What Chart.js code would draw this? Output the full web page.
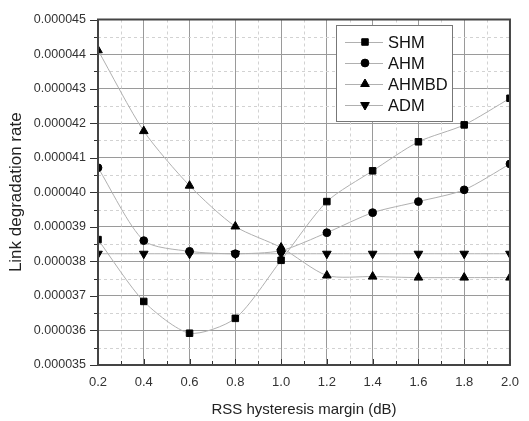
<!DOCTYPE html>
<html>
<head>
<meta charset="utf-8">
<script src="https://cdn.jsdelivr.net/npm/chart.js@4/dist/chart.umd.min.js"></script>
<style>
  html, body { margin: 0; padding: 0; background: #fff; }
  #wrap { width: 529px; height: 421px; }
</style>
</head>
<body>
<div id="wrap"><canvas id="chart" width="529" height="421"></canvas></div>
<script>
// data
const xValues = [0.2, 0.4, 0.6, 0.8, 1.0, 1.2, 1.4, 1.6, 1.8, 2.0];
const shm   = [3.863e-5, 3.684e-5, 3.592e-5, 3.635e-5, 3.803e-5, 3.973e-5, 4.062e-5, 4.146e-5, 4.195e-5, 4.272e-5];
const ahm   = [4.071e-5, 3.860e-5, 3.829e-5, 3.822e-5, 3.831e-5, 3.883e-5, 3.941e-5, 3.973e-5, 4.007e-5, 4.082e-5];
const ahmbd = [4.411e-5, 4.177e-5, 4.019e-5, 3.901e-5, 3.840e-5, 3.759e-5, 3.756e-5, 3.753e-5, 3.753e-5, 3.753e-5];
const adm   = [3.822e-5, 3.822e-5, 3.822e-5, 3.822e-5, 3.822e-5, 3.822e-5, 3.822e-5, 3.822e-5, 3.822e-5, 3.822e-5];
const seriesNames = ['SHM', 'AHM', 'AHMBD', 'ADM'];

const xTicks = [0.2, 0.4, 0.6, 0.8, 1.0, 1.2, 1.4, 1.6, 1.8, 2.0];
const xMinorTicks = [0.3, 0.5, 0.7, 0.9, 1.1, 1.3, 1.5, 1.7, 1.9];
const yTicks = [0.000035, 0.000036, 0.000037, 0.000038, 0.000039, 0.000040,
                0.000041, 0.000042, 0.000043, 0.000044, 0.000045];
const yMinorTicks = [0.0000355, 0.0000365, 0.0000375, 0.0000385, 0.0000395,
                     0.0000405, 0.0000415, 0.0000425, 0.0000435, 0.0000445];

const FONT = '"Liberation Sans", Arial, sans-serif';
const LINE_GREY = '#b0b0b0';

function makeSet(label, values, style, rotation, radius) {
    return {
        label: label,
        data: xValues.map((x, i) => ({ x: x, y: values[i] })),
        borderColor: LINE_GREY,
        borderWidth: 1,
        backgroundColor: '#000',
        pointBackgroundColor: '#000',
        pointBorderColor: '#000',
        pointBorderWidth: 1,
        pointStyle: style,
        pointRotation: rotation,
        pointRadius: radius,
        tension: 0.25,
        fill: false
    };
}

const datasets = [
    makeSet(seriesNames[0], shm, 'rect', 0, 4.6),
    makeSet(seriesNames[1], ahm, 'circle', 0, 3.9),
    makeSet(seriesNames[2], ahmbd, 'triangle', 0, 5),
    makeSet(seriesNames[3], adm, 'triangle', 180, 5)
];

// dashed minor grid, minor ticks and the dark frame
const framePlugin = {
    id: 'frame',
    beforeDatasetsDraw(chart) {
        const ctx = chart.ctx;
        const area = chart.chartArea;
        const xs = chart.scales.x, ys = chart.scales.y;
        ctx.save();
        ctx.strokeStyle = '#d2d2d2';
        ctx.lineWidth = 1;
        ctx.setLineDash([3, 3]);
        xMinorTicks.forEach(v => {
            const px = Math.round(xs.getPixelForValue(v)) + 0.5;
            ctx.beginPath(); ctx.moveTo(px, area.top); ctx.lineTo(px, area.bottom); ctx.stroke();
        });
        yMinorTicks.forEach(v => {
            const py = Math.round(ys.getPixelForValue(v)) + 0.5;
            ctx.beginPath(); ctx.moveTo(area.left, py); ctx.lineTo(area.right, py); ctx.stroke();
        });
        ctx.restore();
    },
    afterDraw(chart) {
        const ctx = chart.ctx;
        const area = chart.chartArea;
        const xs = chart.scales.x, ys = chart.scales.y;
        ctx.save();
        ctx.strokeStyle = '#333';
        ctx.lineWidth = 1;
        // major ticks
        xTicks.forEach(v => {
            const px = Math.round(xs.getPixelForValue(v)) + 0.5;
            ctx.beginPath(); ctx.moveTo(px, area.bottom); ctx.lineTo(px, area.bottom - 6); ctx.stroke();
        });
        yTicks.forEach(v => {
            const py = Math.round(ys.getPixelForValue(v)) + 0.5;
            ctx.beginPath(); ctx.moveTo(area.left - 8, py); ctx.lineTo(area.left, py); ctx.stroke();
        });
        // minor ticks
        xMinorTicks.forEach(v => {
            const px = Math.round(xs.getPixelForValue(v)) + 0.5;
            ctx.beginPath(); ctx.moveTo(px, area.bottom); ctx.lineTo(px, area.bottom - 4); ctx.stroke();
        });
        yMinorTicks.forEach(v => {
            const py = Math.round(ys.getPixelForValue(v)) + 0.5;
            ctx.beginPath(); ctx.moveTo(area.left - 4, py); ctx.lineTo(area.left, py); ctx.stroke();
        });
        // frame
        ctx.strokeStyle = '#444';
        ctx.lineWidth = 2;
        ctx.strokeRect(area.left, area.top, area.right - area.left, area.bottom - area.top);
        ctx.restore();
    }
};

// legend box with line + marker samples
const legendPlugin = {
    id: 'boxLegend',
    afterDraw(chart) {
        const ctx = chart.ctx;
        const left = 336, top = 25, w = 116, h = 96;
        ctx.save();
        ctx.fillStyle = '#fff';
        ctx.fillRect(left, top, w, h);
        ctx.strokeStyle = '#777';
        ctx.lineWidth = 1;
        ctx.strokeRect(left + 0.5, top + 0.5, w, h);
        ctx.font = '16.5px ' + FONT;
        ctx.textBaseline = 'middle';
        const rows = [42, 63, 84, 105];
        chart.data.datasets.forEach((ds, i) => {
            const y = rows[i];
            ctx.strokeStyle = LINE_GREY;
            ctx.lineWidth = 1;
            ctx.beginPath(); ctx.moveTo(345, y + 0.5); ctx.lineTo(383, y + 0.5); ctx.stroke();
            ctx.fillStyle = '#000';
            ctx.strokeStyle = '#000';
            Chart.helpers.drawPoint(ctx, {
                pointStyle: ds.pointStyle,
                rotation: ds.pointRotation,
                radius: ds.pointRadius,
                borderWidth: 1
            }, 365, y);
            ctx.fillStyle = '#111';
            ctx.fillText(ds.label, 388, y + 1);
        });
        ctx.restore();
    }
};

new Chart(document.getElementById('chart'), {
    type: 'line',
    data: { datasets: datasets },
    options: {
        responsive: false,
        animation: false,
        layout: { padding: { left: 0, right: 8, top: 18, bottom: 0 } },
        plugins: {
            legend: { display: false },
            tooltip: { enabled: false }
        },
        scales: {
            x: {
                type: 'linear',
                min: 0.2,
                max: 2.0,
                afterBuildTicks: s => { s.ticks = xTicks.map(v => ({ value: v })); },
                afterFit: s => { s.height = 56; },
                grid: { color: '#9a9a9a', lineWidth: 1, drawTicks: false },
                border: { display: false },
                ticks: {
                    padding: 10,
                    color: '#333',
                    font: { family: FONT, size: 13 },
                    maxRotation: 0,
                    callback: v => Number(v).toFixed(1)
                },
                title: {
                    display: true,
                    text: 'RSS hysteresis margin (dB)',
                    color: '#222',
                    font: { family: FONT, size: 15 },
                    padding: { top: 0, bottom: 2 }
                }
            },
            y: {
                type: 'linear',
                min: 0.000035,
                max: 0.000045,
                afterBuildTicks: s => { s.ticks = yTicks.map(v => ({ value: v })); },
                afterFit: s => { s.width = 98; },
                grid: { color: '#9a9a9a', lineWidth: 1, drawTicks: false },
                border: { display: false },
                ticks: {
                    padding: 12,
                    color: '#333',
                    font: { family: FONT, size: 12.5 },
                    callback: v => Number(v).toFixed(6)
                },
                title: {
                    display: true,
                    text: 'Link degradation rate',
                    color: '#222',
                    font: { family: FONT, size: 17 },
                    padding: { top: 6, bottom: 0 }
                }
            }
        }
    },
    plugins: [framePlugin, legendPlugin]
});
</script>
</body>
</html>
